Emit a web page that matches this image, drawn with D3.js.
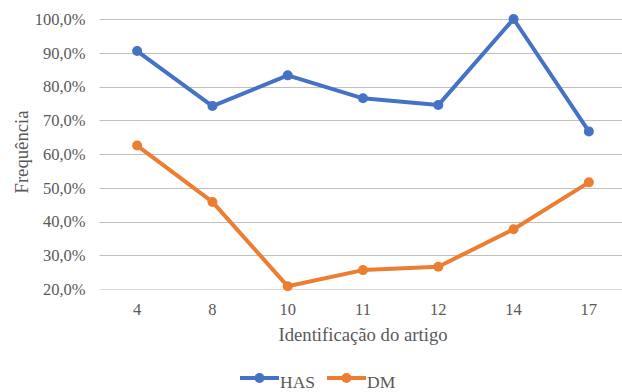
<!DOCTYPE html>
<html>
<head>
<meta charset="utf-8">
<script src="https://cdn.jsdelivr.net/npm/d3@7"></script>
</head>
<body style="margin:0">
<svg id="chart" width="622" height="392" font-family="Liberation Serif"></svg>
<script>
// Article identifiers and the frequency (%) of each condition
const categories = ["4", "8", "10", "11", "12", "14", "17"];
const hasValues = [90.5, 74.2, 83.3, 76.5, 74.5, 100.0, 66.7];
const dmValues = [62.5, 45.8, 20.8, 25.6, 26.6, 37.7, 51.6];
const yTicks = [20, 30, 40, 50, 60, 70, 80, 90, 100];

const series = [
  { name: "HAS", values: hasValues, color: "#4472C4" },
  { name: "DM", values: dmValues, color: "#ED7D31" }
];

const FONT = "Liberation Serif";
const TEXT_COLOR = "#595959";

const svg = d3.select("#chart");
const margin = { left: 99.5, right: -4.5, top: 19, bottom: 103 };
const width = 622, height = 392;

const x = d3.scaleBand()
  .domain(categories)
  .range([margin.left, width - margin.right]);

const y = d3.scaleLinear()
  .domain([20, 100])
  .range([height - margin.bottom, margin.top]);

const fmt = v => d3.format(".1f")(v).replace(".", ",") + "%";

// Horizontal gridlines
svg.append("g")
  .selectAll("line")
  .data(yTicks)
  .join("line")
  .attr("x1", margin.left)
  .attr("x2", width - margin.right)
  .attr("y1", d => Math.round(y(d)) + 0.5)
  .attr("y2", d => Math.round(y(d)) + 0.5)
  .attr("stroke", d => d === 20 ? "#d9d9d9" : "#bfbfbf")
  .attr("stroke-width", 1);

// Y axis labels
const yAxis = d3.axisLeft(y).tickValues(yTicks).tickFormat(fmt).tickSize(0).tickPadding(14);
const gy = svg.append("g")
  .attr("transform", `translate(${margin.left},0)`)
  .call(yAxis)
  .attr("font-family", FONT)
  .attr("font-size", 16.5);
gy.select(".domain").remove();
gy.selectAll("text").attr("fill", TEXT_COLOR);

// X axis labels
const xAxis = d3.axisBottom(x).tickSize(0).tickPadding(14);
const gx = svg.append("g")
  .attr("transform", `translate(0,${y(20)})`)
  .call(xAxis)
  .attr("font-family", FONT)
  .attr("font-size", 16.5);
gx.select(".domain").remove();
gx.selectAll("text").attr("fill", TEXT_COLOR);

// Axis titles
svg.append("text")
  .attr("transform", `translate(28,${(y(20) + y(100)) / 2 - 2}) rotate(-90)`)
  .attr("text-anchor", "middle")
  .attr("fill", TEXT_COLOR)
  .attr("font-family", FONT)
  .attr("font-size", 18.7)
  .text("Frequência");

svg.append("text")
  .attr("x", 363)
  .attr("y", 341)
  .attr("text-anchor", "middle")
  .attr("fill", TEXT_COLOR)
  .attr("font-family", FONT)
  .attr("font-size", 18.7)
  .text("Identificação do artigo");

// Lines and markers
const cx = d => x(d) + x.bandwidth() / 2;
const line = d3.line()
  .x((d, i) => cx(categories[i]))
  .y(d => y(d));

series.forEach(s => {
  svg.append("path")
    .datum(s.values)
    .attr("d", line)
    .attr("fill", "none")
    .attr("stroke", s.color)
    .attr("stroke-width", 4)
    .attr("stroke-linejoin", "round");
  svg.append("g")
    .selectAll("circle")
    .data(s.values)
    .join("circle")
    .attr("cx", (d, i) => cx(categories[i]))
    .attr("cy", d => y(d))
    .attr("r", 5)
    .attr("fill", s.color);
});

// Legend
const legend = svg.append("g").attr("transform", "translate(0,378)");
const legendItems = [
  { s: series[0], x: 240 },
  { s: series[1], x: 327 }
];
legendItems.forEach(item => {
  const g = legend.append("g").attr("transform", `translate(${item.x},0)`);
  g.append("line")
    .attr("x1", 0).attr("x2", 39)
    .attr("stroke", item.s.color)
    .attr("stroke-width", 4);
  g.append("circle").attr("cx", 19.5).attr("r", 5).attr("fill", item.s.color);
  g.append("text")
    .attr("x", 40)
    .attr("y", 9.5)
    .attr("fill", TEXT_COLOR)
    .attr("font-family", FONT)
    .attr("font-size", 17.5)
    .text(item.s.name);
});
</script>
</body>
</html>
